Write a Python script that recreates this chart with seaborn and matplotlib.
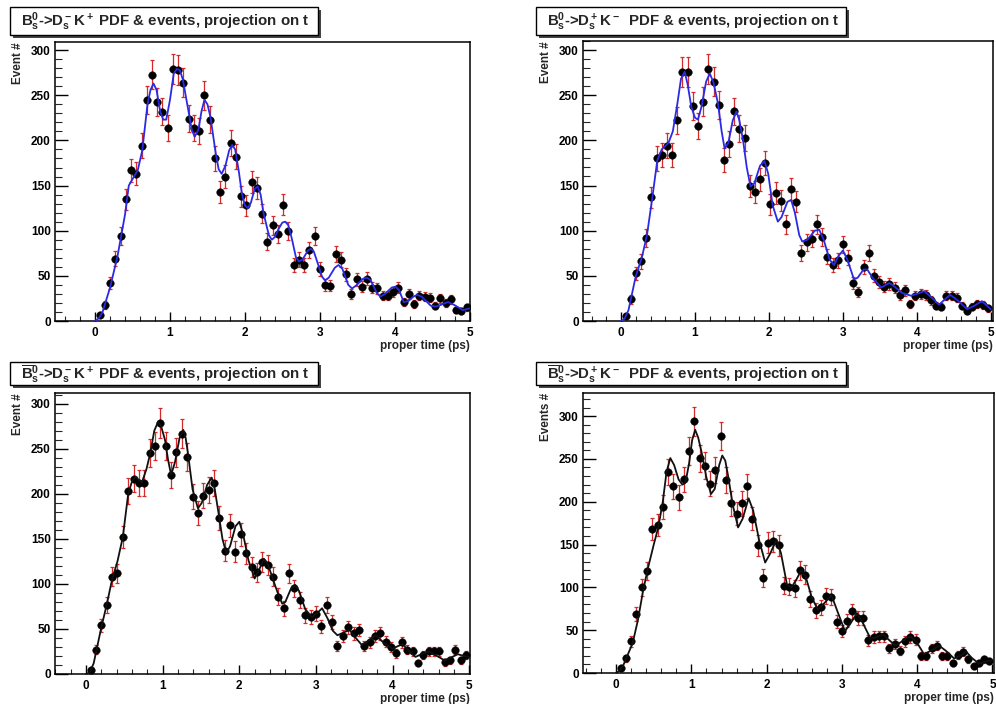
import numpy as np
import pandas as pd
import matplotlib
matplotlib.use("Agg")
import matplotlib.pyplot as plt
import seaborn as sns
from matplotlib.patches import Rectangle
from matplotlib.ticker import MultipleLocator

sns.set_theme(style="ticks")
plt.rcParams['font.family'] = ['Liberation Sans', 'DejaVu Sans']
plt.rcParams['font.weight'] = 'bold'
plt.rcParams['mathtext.fontset'] = 'custom'
plt.rcParams['mathtext.rm'] = 'Liberation Sans:bold'
plt.rcParams['mathtext.it'] = 'Liberation Sans:bold'
plt.rcParams['mathtext.bf'] = 'Liberation Sans:bold'
plt.rcParams['mathtext.sf'] = 'Liberation Sans:bold'

# ---------------- data ----------------
# bin centres of the proper-time histogram (ps)
t_first, t_step, n_bins = 0.06, 0.07, 71
t_bins = np.round(t_first + t_step * np.arange(n_bins), 3)

titles = [
    r"B$^0_s$->D$^-_s$K$^+$ PDF & events, projection on t",
    r"B$^0_s$->D$^+_s$K$^-$  PDF & events, projection on t",
    r"$\overline{\mathrm{B}}^0_s$->D$^-_s$K$^+$ PDF & events, projection on t",
    r"$\overline{\mathrm{B}}^0_s$->D$^+_s$K$^-$  PDF & events, projection on t",
]
ylabels = ["Event #", "Event #", "Event #", "Events #"]
xlabel = "proper time (ps)"

events_bs_dsm_kp = [7, 18, 42, 69, 94, 135, 167, 163, 194, 245, 273, 243, 232, 214, 279, 278,
                    264, 224, 214, 210, 250, 223, 180, 143, 160, 197, 182, 138, 128, 154, 147,
                    119, 88, 106, 96, 129, 100, 62, 68, 62, 79, 94, 58, 40, 39, 74, 68, 52, 30,
                    46, 38, 47, 37, 36, 28, 28, 32, 37, 21, 30, 19, 28, 27, 26, 17, 25, 20, 24,
                    12, 11, 15]
events_bs_dsp_km = [6, 24, 53, 66, 92, 137, 180, 184, 194, 184, 222, 276, 276, 238, 216, 243,
                    279, 265, 239, 178, 196, 232, 213, 203, 149, 143, 157, 175, 129, 142, 133,
                    107, 146, 132, 75, 87, 91, 107, 93, 71, 62, 67, 85, 70, 42, 32, 60, 75, 50,
                    43, 38, 41, 37, 29, 34, 19, 28, 30, 29, 23, 17, 16, 28, 28, 26, 17, 11, 16,
                    19, 18, 14]
events_bsbar_dsm_kp = [4, 27, 54, 77, 108, 112, 152, 203, 217, 212, 212, 245, 253, 279, 253, 221,
                       246, 267, 241, 197, 179, 198, 204, 212, 173, 137, 165, 136, 155, 134, 119,
                       113, 124, 121, 108, 86, 73, 112, 95, 82, 65, 63, 67, 53, 77, 58, 31, 42,
                       52, 45, 49, 31, 35, 42, 45, 36, 30, 23, 35, 27, 25, 12, 21, 25, 25, 25, 13,
                       15, 27, 15, 21]
events_bsbar_dsp_km = [6, 17, 37, 69, 100, 119, 168, 173, 194, 235, 218, 205, 226, 259, 294, 251,
                       242, 221, 237, 277, 225, 198, 186, 198, 218, 180, 149, 111, 152, 154, 149,
                       102, 101, 99, 120, 115, 86, 73, 77, 90, 89, 60, 49, 61, 72, 64, 64, 38, 42,
                       43, 43, 29, 34, 26, 37, 42, 39, 20, 20, 29, 32, 20, 20, 12, 21, 25, 16, 8,
                       12, 16, 14]

# fitted PDF curves, (t, value) pairs
pdf_bs_dsm_kp = [(0.0, 0), (0.05, 3), (0.1, 10), (0.2, 37), (0.3, 72), (0.4, 118), (0.45, 150),
                 (0.52, 160), (0.57, 167), (0.63, 189), (0.70, 240), (0.74, 256), (0.78, 263),
                 (0.82, 256), (0.87, 232), (0.91, 223), (0.95, 223), (1.0, 245), (1.05, 274),
                 (1.09, 279), (1.13, 278), (1.17, 268), (1.25, 231), (1.29, 212), (1.33, 204),
                 (1.38, 212), (1.42, 232), (1.46, 245), (1.50, 240), (1.54, 226), (1.61, 186),
                 (1.65, 168), (1.69, 163), (1.74, 172), (1.79, 189), (1.83, 195), (1.87, 190),
                 (1.92, 165), (1.96, 141), (2.0, 128), (2.04, 125), (2.08, 131), (2.13, 146),
                 (2.17, 149), (2.21, 140), (2.25, 119), (2.32, 95), (2.36, 90), (2.40, 93),
                 (2.45, 102), (2.50, 109), (2.54, 110), (2.58, 106), (2.63, 90), (2.68, 71),
                 (2.72, 66), (2.77, 68), (2.84, 78), (2.88, 80), (2.92, 77), (2.98, 62),
                 (3.03, 49), (3.07, 45), (3.12, 48), (3.20, 59), (3.25, 62), (3.30, 58),
                 (3.38, 40), (3.43, 36), (3.48, 39), (3.58, 47), (3.63, 48), (3.68, 45),
                 (3.76, 31), (3.81, 27), (3.87, 30), (3.96, 37), (4.01, 38), (4.06, 34),
                 (4.12, 21), (4.18, 22), (4.25, 27), (4.30, 29), (4.36, 27), (4.48, 17),
                 (4.55, 16), (4.62, 18), (4.71, 21), (4.79, 18), (4.91, 12), (5.0, 14)]
pdf_bs_dsp_km = [(0.0, 0), (0.05, 3), (0.1, 12), (0.2, 50), (0.28, 70), (0.35, 95), (0.42, 135),
                 (0.49, 178), (0.55, 190), (0.64, 197), (0.70, 210), (0.76, 240), (0.81, 268),
                 (0.86, 276), (0.90, 262), (0.95, 237), (1.0, 225), (1.04, 223), (1.09, 238),
                 (1.15, 265), (1.2, 274), (1.25, 264), (1.31, 241), (1.36, 210), (1.4, 191),
                 (1.45, 197), (1.51, 222), (1.56, 232), (1.6, 222), (1.65, 200), (1.70, 170),
                 (1.75, 149), (1.80, 152), (1.88, 172), (1.94, 177), (1.99, 163), (2.05, 128),
                 (2.12, 110), (2.17, 115), (2.25, 132), (2.3, 134), (2.35, 120), (2.41, 95),
                 (2.45, 88), (2.52, 90), (2.62, 100), (2.68, 101), (2.74, 90), (2.82, 68),
                 (2.88, 62), (2.94, 72), (3.0, 78), (3.06, 68), (3.15, 46), (3.2, 48),
                 (3.28, 57), (3.33, 57), (3.4, 48), (3.52, 37), (3.58, 40), (3.63, 42),
                 (3.7, 38), (3.8, 31), (3.92, 28), (4.0, 30), (4.1, 33), (4.2, 26), (4.3, 18),
                 (4.38, 24), (4.45, 29), (4.55, 23), (4.68, 13), (4.78, 17), (4.88, 22),
                 (5.0, 13)]
pdf_bsbar_dsm_kp = [(0.0, 0), (0.05, 2), (0.1, 12), (0.2, 52), (0.27, 77), (0.34, 105),
                    (0.41, 125), (0.48, 152), (0.55, 200), (0.6, 214), (0.64, 219), (0.69, 215),
                    (0.73, 213), (0.79, 228), (0.84, 246), (0.89, 270), (0.94, 280), (0.98, 275),
                    (1.03, 260), (1.07, 238), (1.11, 221), (1.16, 235), (1.22, 262), (1.27, 271),
                    (1.3, 262), (1.33, 245), (1.39, 205), (1.46, 184), (1.51, 190), (1.58, 210),
                    (1.64, 218), (1.68, 205), (1.73, 178), (1.78, 150), (1.83, 134), (1.88, 142),
                    (1.95, 164), (2.0, 169), (2.05, 155), (2.12, 126), (2.2, 106), (2.26, 116),
                    (2.32, 128), (2.36, 124), (2.4, 115), (2.46, 100), (2.51, 88), (2.56, 78),
                    (2.6, 80), (2.67, 94), (2.73, 99), (2.78, 92), (2.86, 72), (2.95, 63),
                    (3.02, 68), (3.08, 73), (3.15, 62), (3.22, 48), (3.28, 43), (3.36, 46),
                    (3.44, 49), (3.52, 40), (3.6, 32), (3.7, 38), (3.78, 43), (3.88, 35),
                    (4.0, 28), (4.07, 31), (4.13, 33), (4.22, 25), (4.3, 19), (4.4, 23),
                    (4.48, 25), (4.58, 20), (4.68, 15), (4.78, 19), (4.85, 22), (4.93, 20),
                    (5.0, 19)]
pdf_bsbar_dsp_km = [(0.0, 0), (0.05, 3), (0.1, 10), (0.22, 35), (0.29, 62), (0.36, 97),
                    (0.43, 125), (0.5, 150), (0.56, 170), (0.62, 200), (0.67, 235), (0.72, 251),
                    (0.77, 243), (0.83, 226), (0.88, 220), (0.92, 222), (0.97, 245), (1.01, 272),
                    (1.05, 284), (1.09, 275), (1.14, 256), (1.2, 228), (1.26, 209), (1.31, 215),
                    (1.37, 243), (1.41, 254), (1.45, 248), (1.49, 229), (1.55, 196), (1.62, 170),
                    (1.68, 180), (1.76, 204), (1.82, 190), (1.9, 155), (1.98, 129), (2.05, 140),
                    (2.13, 156), (2.19, 140), (2.27, 103), (2.33, 100), (2.4, 110), (2.46, 120),
                    (2.52, 112), (2.6, 88), (2.68, 74), (2.75, 80), (2.86, 91), (2.94, 72),
                    (3.04, 49), (3.1, 56), (3.2, 70), (3.28, 58), (3.38, 40), (3.46, 42),
                    (3.55, 45), (3.62, 39), (3.71, 32), (3.8, 37), (3.91, 43), (4.0, 35),
                    (4.09, 22), (4.18, 26), (4.29, 32), (4.38, 26), (4.49, 17), (4.57, 20),
                    (4.65, 25), (4.72, 18), (4.82, 11), (4.9, 13), (5.0, 15)]

events = [events_bs_dsm_kp, events_bs_dsp_km, events_bsbar_dsm_kp, events_bsbar_dsp_km]
pdfs = [pdf_bs_dsm_kp, pdf_bs_dsp_km, pdf_bsbar_dsm_kp, pdf_bsbar_dsp_km]

# ---------------- layout ----------------
W, H = 996, 704
fig = plt.figure(figsize=(W / 100, H / 100), dpi=100)
fig.patch.set_facecolor("white")

# axes frames in pixels: left, right, top, bottom
frames = [(55, 470, 42, 321), (583, 993, 41, 321), (55, 470, 393, 674), (583, 994, 393, 673)]
xlims = [(-0.535, 5.005), (-0.515, 5.03), (-0.405, 5.01), (-0.44, 5.02)]
ylims = [(0, 309), (0, 310), (0, 312), (0, 327)]
title_boxes = [(10, 318, 7, 35), (536, 846, 7, 35), (10, 318, 362, 385), (536, 846, 362, 385)]
curve_colors = ["#2a2ae6", "#2a2ae6", "#111111", "#111111"]


def fx(x):
    return x / W


def fy(y):
    return 1 - y / H


for i in range(4):
    l, r, t, b = frames[i]
    ax = fig.add_axes([fx(l), fy(b), (r - l) / W, (b - t) / H])
    ax.set_facecolor("white")
    df = pd.DataFrame({"t": t_bins, "n": events[i]})
    cf = pd.DataFrame(pdfs[i], columns=["t", "pdf"])

    ax.errorbar(df["t"], df["n"], yerr=np.sqrt(df["n"]), fmt="none",
                ecolor="#d42a2a", elinewidth=0.9, capsize=1.6, capthick=0.9, zorder=2)
    sns.scatterplot(data=df, x="t", y="n", ax=ax, color="black", s=30,
                    edgecolor="black", linewidth=0.3, zorder=3, legend=False)
    sns.lineplot(data=cf, x="t", y="pdf", ax=ax, color=curve_colors[i], lw=1.3,
                 sort=False, zorder=4, legend=False)

    ax.set_xlim(*xlims[i])
    ax.set_ylim(*ylims[i])
    ax.xaxis.set_major_locator(MultipleLocator(1))
    ax.xaxis.set_minor_locator(MultipleLocator(0.2))
    ax.yaxis.set_major_locator(MultipleLocator(50))
    ax.yaxis.set_minor_locator(MultipleLocator(10))
    ax.tick_params(axis="x", which="major", direction="in", length=6.5, width=1,
                   labelsize=8.5, pad=4, top=False, colors="black")
    ax.tick_params(axis="x", which="minor", direction="in", length=3.5, width=0.8, top=False)
    ax.tick_params(axis="y", which="major", direction="in", length=9, width=1,
                   labelsize=8.5, pad=3, right=False, colors="black")
    ax.tick_params(axis="y", which="minor", direction="in", length=5, width=0.8, right=False)
    for lab in ax.get_xticklabels() + ax.get_yticklabels():
        lab.set_fontweight("bold")
    for sp in ax.spines.values():
        sp.set_visible(True)
        sp.set_color("black")
        sp.set_linewidth(1.1)
    ax.set_xlabel(xlabel, loc="right", fontsize=8.5, fontweight="bold", labelpad=1)
    ax.set_ylabel(ylabels[i], loc="top", fontsize=8.5, fontweight="bold", labelpad=5)

    # title box with shadow
    bl, br, bt, bb = title_boxes[i]
    shadow = Rectangle((fx(bl + 3), fy(bb + 3)), (br - bl) / W, (bb - bt) / H,
                       transform=fig.transFigure, facecolor="#444444", edgecolor="none", zorder=5)
    box = Rectangle((fx(bl), fy(bb)), (br - bl) / W, (bb - bt) / H,
                    transform=fig.transFigure, facecolor="white", edgecolor="black",
                    linewidth=1.0, zorder=6)
    fig.patches.extend([shadow, box])
    fig.text(fx(bl + 11), fy((bt + bb) / 2 + 1), titles[i], fontsize=10.8, fontweight="bold",
             ha="left", va="center", zorder=7)

fig.savefig("out.png", dpi=100, facecolor="white")
